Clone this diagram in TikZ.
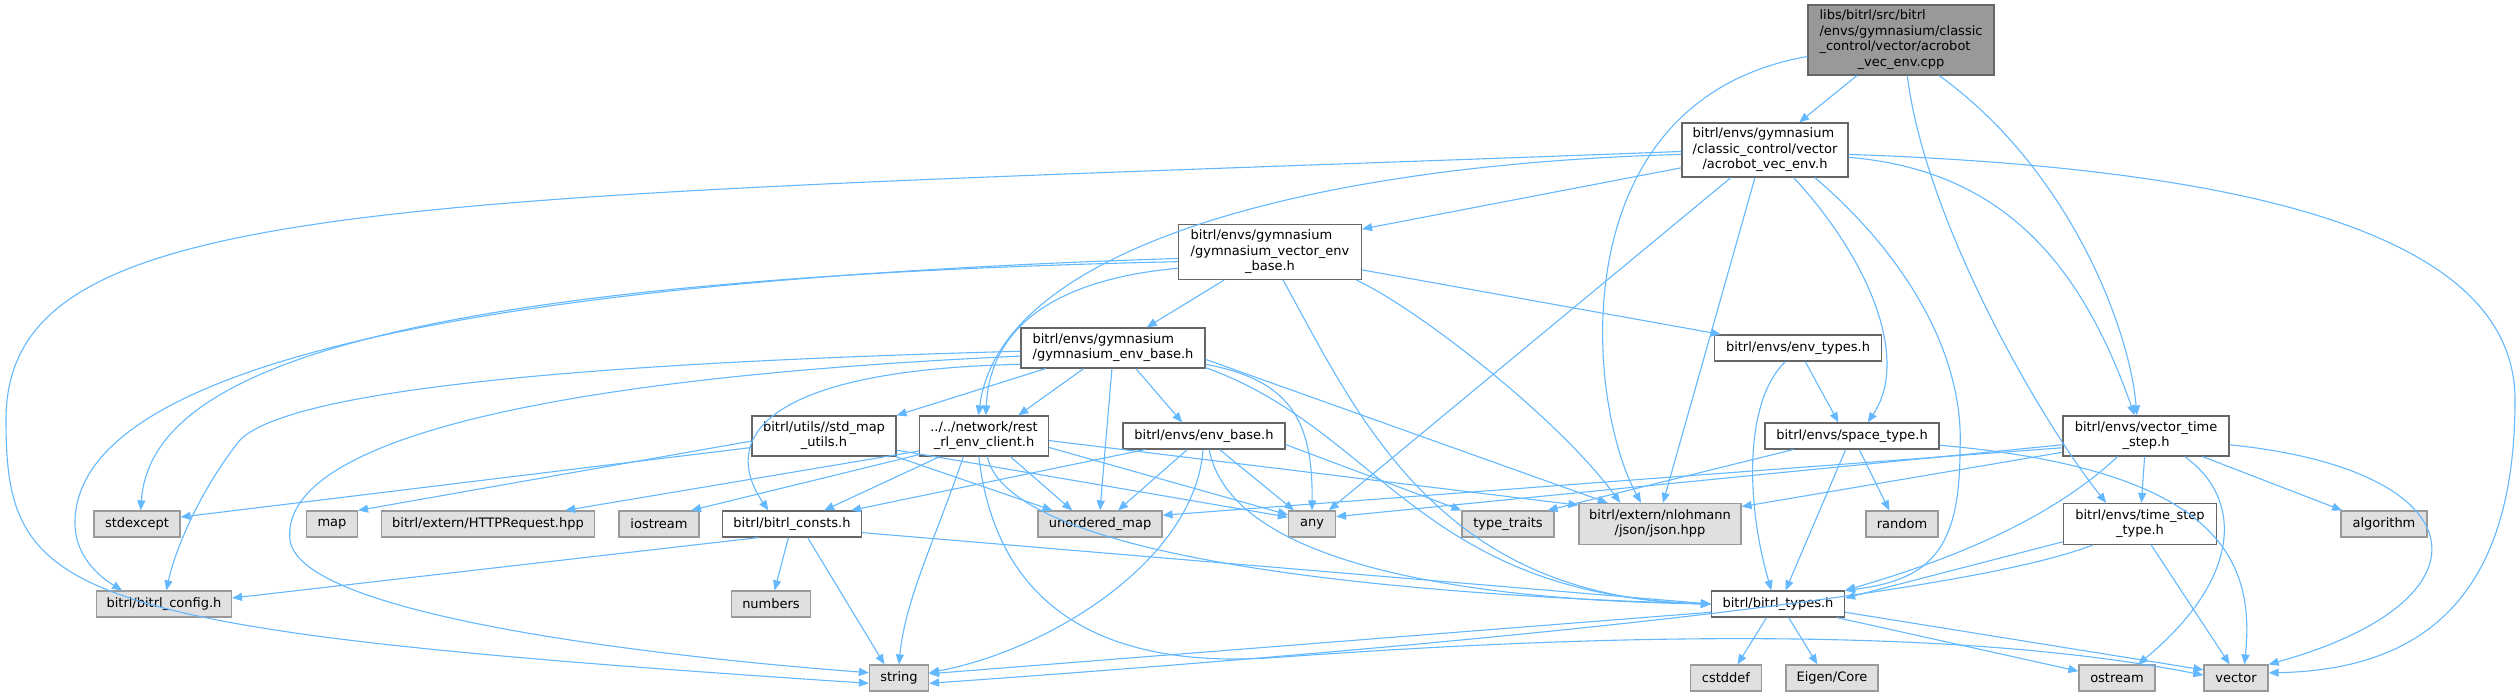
\documentclass[tikz,border=0pt]{standalone}
\usepackage{fontspec}
\setmainfont{DejaVu Sans}
\usetikzlibrary{arrows.meta}
\definecolor{edgeblue}{HTML}{63B8FF}
\definecolor{hdrline}{HTML}{666666}
\definecolor{sysline}{HTML}{999999}
\definecolor{sysfill}{HTML}{E0E0E0}
\definecolor{srcfill}{HTML}{999999}
\newcommand{\lbl}[1]{\begin{tabular}{@{}l@{}}#1\end{tabular}}
\newcommand{\lastl}[1]{\multicolumn{1}{@{}c@{}}{#1}}

\begin{document}
\begin{tikzpicture}[x=1pt,y=-1pt,
    font=\fontsize{13}{15.5}\selectfont,
    hdr/.style={draw=hdrline, fill=white, line width=1.2pt, inner sep=0pt, minimum height=26pt},
    sys/.style={draw=sysline, fill=sysfill, line width=1.2pt, inner sep=0pt, minimum height=26pt},
    src/.style={draw=hdrline, fill=srcfill, line width=1.2pt, inner sep=0pt},
    dep/.style={draw=edgeblue, line width=1.1pt, -{Triangle[length=10pt,width=8pt]}}]
            \useasboundingbox (0,0) rectangle (2520,696);
            \node[src, minimum width=186pt, minimum height=70pt] (root) at (1901,40) {\lbl{libs/bitrl/src/bitrl\\/envs/gymnasium/classic\\\_control/vector/acrobot\\\lastl{\_vec\_env.cpp}}};
            \node[hdr, minimum width=166pt, minimum height=54pt] (acr) at (1765,150) {\lbl{bitrl/envs/gymnasium\\/classic\_control/vector\\\lastl{/acrobot\_vec\_env.h}}};
            \node[hdr, minimum width=183pt, minimum height=55pt] (gvb) at (1270,252) {\lbl{bitrl/envs/gymnasium\\/gymnasium\_vector\_env\\\lastl{\_base.h}}};
            \node[hdr, minimum width=184pt, minimum height=40pt] (geb) at (1113,348) {\lbl{bitrl/envs/gymnasium\\\lastl{/gymnasium\_env\_base.h}}};
            \node[hdr, minimum width=167pt] (envtypes) at (1798,348) {bitrl/envs/env\_types.h};
            \node[hdr, minimum width=144pt, minimum height=40pt] (stdmap) at (824,436) {\lbl{bitrl/utils//std\_map\\\lastl{\_utils.h}}};
            \node[hdr, minimum width=129pt, minimum height=40pt] (rest) at (984,436) {\lbl{../../network/rest\\\lastl{\_rl\_env\_client.h}}};
            \node[hdr, minimum width=162pt] (envbase) at (1204,436) {bitrl/envs/env\_base.h};
            \node[hdr, minimum width=174pt] (space) at (1852,436) {bitrl/envs/space\_type.h};
            \node[hdr, minimum width=166pt, minimum height=40pt] (vts) at (2146,436) {\lbl{bitrl/envs/vector\_time\\\lastl{\_step.h}}};
            \node[sys, minimum width=86pt] (stdexcept) at (137,524) {stdexcept};
            \node[sys, minimum width=51pt] (map) at (332,524) {map};
            \node[sys, minimum width=213pt] (http) at (488,524) {bitrl/extern/HTTPRequest.hpp};
            \node[sys, minimum width=80pt] (iostream) at (659,524) {iostream};
            \node[hdr, minimum width=139pt] (consts) at (792,524) {bitrl/bitrl\_consts.h};
            \node[sys, minimum width=124pt] (umap) at (1100,524) {unordered\_map};
            \node[sys, minimum width=47pt] (any) at (1312,524) {any};
            \node[sys, minimum width=92pt] (typetraits) at (1508,524) {type\_traits};
            \node[sys, minimum width=162pt, minimum height=41pt] (json) at (1660,524) {\lbl{bitrl/extern/nlohmann\\\lastl{/json/json.hpp}}};
            \node[sys, minimum width=72pt] (random) at (1902,524) {random};
            \node[hdr, minimum width=153pt, minimum height=41pt] (tstype) at (2140,524) {\lbl{bitrl/envs/time\_step\\\lastl{\_type.h}}};
            \node[sys, minimum width=86pt] (algorithm) at (2384,524) {algorithm};
            \node[sys, minimum width=135pt] (config) at (164,604) {bitrl/bitrl\_config.h};
            \node[sys, minimum width=79pt] (numbers) at (771,604) {numbers};
            \node[hdr, minimum width=133pt] (types) at (1778,604) {bitrl/bitrl\_types.h};
            \node[sys, minimum width=59pt] (string) at (899,678) {string};
            \node[sys, minimum width=71pt] (cstddef) at (1726,678) {cstddef};
            \node[sys, minimum width=92pt] (eigen) at (1832,678) {Eigen/Core};
            \node[sys, minimum width=76pt] (ostream) at (2117,678) {ostream};
            \node[sys, minimum width=64pt] (vector) at (2236,678) {vector};
            \draw[dep] (root) -- (acr);
            \draw[dep] (root.190) .. controls (1560,100) and (1585,400) .. (json.132);
            \draw[dep] (root.-80) .. controls (1925,220) and (2040,420) .. (tstype.148);
            \draw[dep] (root.-43) .. controls (2070,170) and (2130,330) .. (vts.114);
            \draw[dep] (acr.192) -- (gvb.14);
            \draw[dep] (acr.183) .. controls (1300,165) and (1000,250) .. (rest.105);
            \draw[dep] (acr.181) .. controls (400,200) and (6,190) .. (6,420) .. controls (6,600) and (60,630) .. (string.190);
            \draw[dep] (acr.219) -- (any.39);
            \draw[dep] (acr.250) -- (json.82);
            \draw[dep] (acr.316) .. controls (1870,260) and (1910,360) .. (space.41);
            \draw[dep] (acr.331) .. controls (1900,250) and (1965,350) .. (1960,450) .. controls (1960,550) and (1930,580) .. (types.north east);
            \draw[dep] (acr.355) .. controls (2000,170) and (2080,260) .. (vts.119);
            \draw[dep] (acr.357) .. controls (2300,170) and (2515,250) .. (2515,400) .. controls (2515,600) and (2420,670) .. (vector.9);
            \draw[dep] (gvb) -- (geb);
            \draw[dep] (gvb.190) .. controls (1050,280) and (990,330) .. (rest.85);
            \draw[dep] (gvb.184) .. controls (500,280) and (75,360) .. (75,523) .. controls (75,560) and (105,580) .. (config.162);
            \draw[dep] (gvb.186) .. controls (350,280) and (150,380) .. (stdexcept.75);
            \draw[dep] (gvb.-18) .. controls (1420,310) and (1560,420) .. (json.152);
            \draw[dep] (gvb.-65) .. controls (1360,420) and (1440,598) .. (types.west);
            \draw[dep] (gvb.-11) -- (envtypes.170);
            \draw[dep] (geb.182) .. controls (700,360) and (300,380) .. (240,440) .. controls (200,490) and (175,550) .. (config.80);
            \draw[dep] (geb.185) .. controls (500,380) and (280,450) .. (290,540) .. controls (300,620) and (700,660) .. (string.170);
            \draw[dep] (geb.190) .. controls (760,370) and (720,440) .. (consts.150);
            \draw[dep] (geb.197) -- (stdmap.north east);
            \draw[dep] (geb.215) -- (rest.31);
            \draw[dep] (geb.-42) -- (envbase.148);
            \draw[dep] (geb.267) -- (umap.north);
            \draw[dep] (geb.350) .. controls (1290,380) and (1313,420) .. (any.north);
            \draw[dep] (geb.348) .. controls (1380,430) and (1420,595) .. (types.west);
            \draw[dep] (geb.353) -- (json.158);
            \draw[dep] (stdmap.189) -- (stdexcept.9);
            \draw[dep] (stdmap.184) -- (map.north east);
            \draw[dep] (stdmap.-16) -- (umap.164);
            \draw[dep] (stdmap.-11) -- (any.164);
            \draw[dep] (rest.193) -- (http.10);
            \draw[dep] (rest.196) -- (iostream.23);
            \draw[dep] (rest.205) -- (consts.23);
            \draw[dep] (rest.225) .. controls (935,540) and (905,600) .. (string.north);
            \draw[dep] (rest.256) .. controls (1000,640) and (1150,665) .. (1268,658) .. controls (1450,645) and (1900,615) .. (vector.175);
            \draw[dep] (rest.-81) .. controls (1010,560) and (1400,595) .. (types.west);
            \draw[dep] (rest.-38) -- (umap.154);
            \draw[dep] (rest.-10) -- (any.159);
            \draw[dep] (rest.-4) -- (json.167);
            \draw[dep] (consts.202) -- (config.5);
            \draw[dep] (consts) -- (numbers);
            \draw[dep] (consts.-41) -- (string.137);
            \draw[dep] (consts.-7) -- (types.west);
            \draw[dep] (envbase.193) -- (consts.13);
            \draw[dep] (envbase.219) -- (umap.37);
            \draw[dep] (envbase.266) .. controls (1195,560) and (1050,650) .. (string.10);
            \draw[dep] (envbase.-69) .. controls (1230,560) and (1450,600) .. (types.west);
            \draw[dep] (envbase.-41) -- (any.143);
            \draw[dep] (envbase.-6) -- (typetraits.north west);
            \draw[dep] (envtypes.-62) -- (space.135);
            \draw[dep] (envtypes.227) .. controls (1745,400) and (1745,500) .. (types.116);
            \draw[dep] (space.193) -- (typetraits.19);
            \draw[dep] (space.245) -- (types.61);
            \draw[dep] (space.298) -- (random.133);
            \draw[dep] (space.-6) .. controls (2220,470) and (2255,560) .. (vector.58);
            \draw[dep] (vts) -- (tstype);
            \draw[dep] (vts.216) .. controls (2050,520) and (1950,560) .. (types.north east);
            \draw[dep] (vts.-28) .. controls (2245,500) and (2240,580) .. (ostream.33);
            \draw[dep] (vts.-20) -- (algorithm.162);
            \draw[dep] (vts.-6) .. controls (2480,470) and (2500,600) .. (vector.north east);
            \draw[dep] (vts.186) -- (any.17);
            \draw[dep] (vts.188) -- (umap.8);
            \draw[dep] (vts.191) -- (json.12);
            \draw[dep] (tstype.193) -- (types.5);
            \draw[dep] (tstype.204) .. controls (1950,600) and (1400,650) .. (string.-10);
            \draw[dep] (tstype.-62) -- (vector.115);
            \draw[dep] (types.187) -- (string.8);
            \draw[dep] (types.230) -- (cstddef.50);
            \draw[dep] (types.-52) -- (eigen.137);
            \draw[dep] (types.-13) -- (ostream.170);
            \draw[dep] (types.-7) -- (vector.166);
        \end{tikzpicture}
\end{document}
